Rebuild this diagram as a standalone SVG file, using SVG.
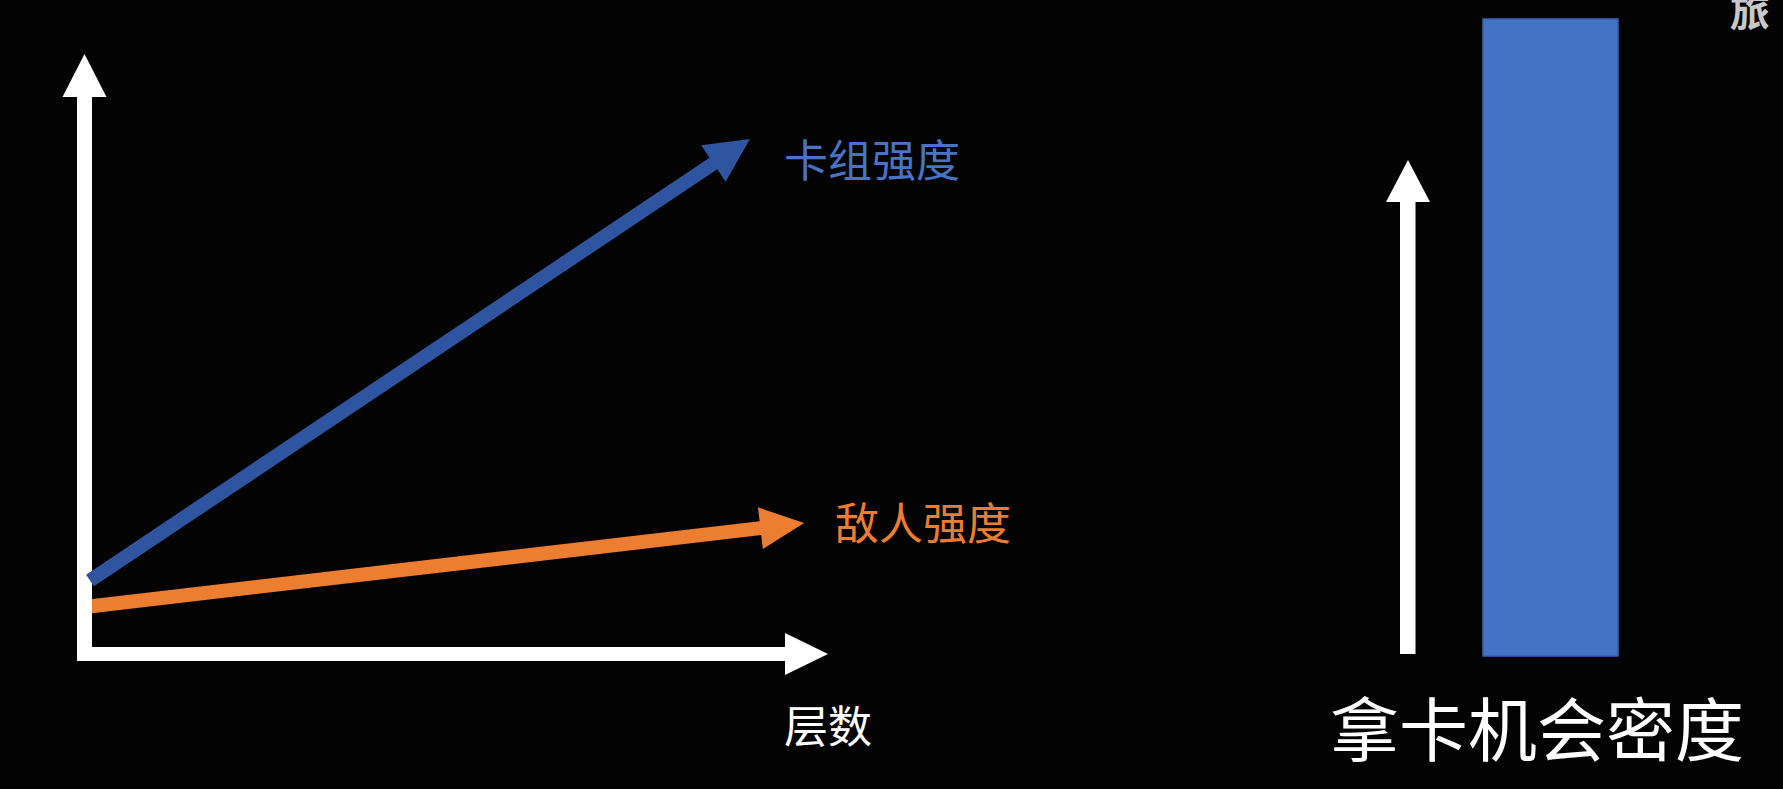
<svg xmlns="http://www.w3.org/2000/svg" width="1783" height="789" viewBox="0 0 1783 789">
<style>
.lbl{font-family:"Noto Sans CJK SC","Noto Sans",sans-serif;font-size:44px}
.white{fill:#ffffff}
</style>
<rect x="0" y="0" width="1783" height="789" fill="#030303"/>
<g id="connectors">
<g id="enemy-arrow" transform="translate(85,607) rotate(-6.66)">
<polygon points="0,-7 680,-7 680,-21 724,0 680,21 680,7 0,7" fill="#ED7D31"/>
</g>
<polygon id="axes" class="white" points="62.5,97 84.5,54 106.5,97 92,97 92,647 785,647 785,633 828,654 785,675 785,661 77,661 77,97"/>
<g id="deck-arrow" transform="translate(90,580.5) rotate(-33.78)">
<polygon points="0,-7 750,-7 750,-22 794,0 750,22 750,7 0,7" fill="#2F55A0"/>
</g>
<polygon id="density-arrow" class="white" points="1400,654 1400,202 1386,202 1408,160 1430,202 1415.5,202 1415.5,654"/>
</g>
<g id="deck-label"><text class="lbl" x="784" y="177" fill="#4874C6">卡组强度</text></g>
<g id="enemy-label"><text class="lbl" x="835" y="540" fill="#ED7D31">敌人强度</text></g>
<g id="floor-label"><text class="lbl white" x="784" y="743">层数</text></g>
<g id="density-bar"><rect x="1483" y="19" width="135" height="637" fill="#4472C4" stroke="#3A62AD" stroke-width="1.5"/></g>
<g id="density-label"><text class="lbl white" x="1330" y="756" style="font-size:69px">拿卡机会密度</text></g>
<g id="corner-text"><text x="1730" y="26" fill="#c8c8c8" style="font-family:'Noto Sans CJK SC',sans-serif;font-size:40px;font-weight:700">旅</text></g>
</svg>
